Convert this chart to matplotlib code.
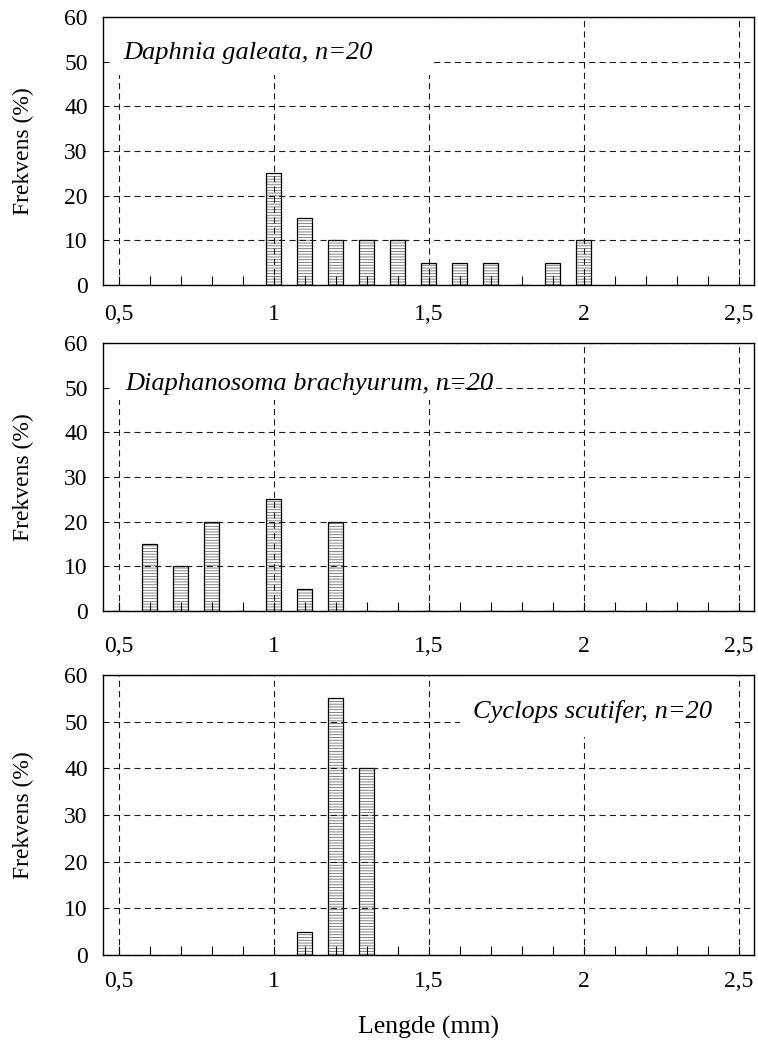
import matplotlib
matplotlib.use("Agg")
import matplotlib.pyplot as plt
from matplotlib.patches import Rectangle
from matplotlib.ticker import MultipleLocator, FixedLocator

plt.rcParams['font.family'] = ['Liberation Serif', 'DejaVu Serif']
plt.rcParams['hatch.linewidth'] = 0.6
plt.rcParams['hatch.color'] = '#707070'

# ---- data ----
daphnia_len = [1.0, 1.1, 1.2, 1.3, 1.4, 1.5, 1.6, 1.7, 1.8, 1.9, 2.0]
daphnia_pct = [25, 15, 10, 10, 10, 5, 5, 5, 0, 5, 10]

diaph_len = [0.5, 0.6, 0.7, 0.8, 0.9, 1.0, 1.1, 1.2, 1.3, 1.4, 1.5, 1.6, 1.7,
             1.8, 1.9, 2.0, 2.1, 2.2, 2.3, 2.4, 2.5]
diaph_pct = [0, 15, 10, 20, 0, 25, 5, 20, 0, 0, 0, 0, 0, 0, 0, 0, 0, 0, 0, 0, 0]

cyclops_len = [1.1, 1.2, 1.3]
cyclops_pct = [5, 55, 40]

titles = ["Daphnia galeata, n=20", "Diaphanosoma brachyurum, n=20",
          "Cyclops scutifer, n=20"]
xticks = [0.5, 1.0, 1.5, 2.0, 2.5]
xticklabels = ["0,5", "1", "1,5", "2", "2,5"]
yticks = [0, 10, 20, 30, 40, 50, 60]
ylabel = "Frekvens (%)"
xlabel = "Lengde (mm)"

fig = plt.figure(figsize=(7.58, 10.41), dpi=100)
W, H = 758, 1041
left, width = 103 / W, 651 / W
positions = [
    (left, 1 - 285 / H, width, 268 / H),
    (left, 1 - 611 / H, width, 268 / H),
    (left, 1 - 955 / H, width, 280 / H),
]
series = [(daphnia_len, daphnia_pct), (diaph_len, diaph_pct),
          (cyclops_len, cyclops_pct)]
# text placement (x, baseline y, ha) and masking boxes (x0, x1, y0)
text_pos = [(0.514, 50.6, 'left'), (0.521, 49.5, 'left'), (2.414, 50.8, 'right')]
boxes = [(0.479, 1.508, 47.0), (0.479, 1.537, 47.2), (1.602, 2.489, 46.7)]
xpads = [13.5, 18.0, 11.5]

axes = []
for i, pos in enumerate(positions):
    ax = fig.add_axes(pos)
    axes.append(ax)
    lens, pct = series[i]
    ax.bar(lens, pct, width=0.05, color='white', edgecolor='#707070',
           linewidth=0, hatch='------', zorder=2)
    ax.bar(lens, pct, width=0.05, fill=False, edgecolor='black',
           linewidth=0.9, zorder=2.1)
    ax.set_xlim(0.45, 2.55)
    ax.set_ylim(0, 60)
    ax.xaxis.set_major_locator(FixedLocator(xticks))
    ax.set_xticklabels(xticklabels)
    ax.xaxis.set_minor_locator(MultipleLocator(0.1))
    ax.set_yticks(yticks)
    ax.tick_params(axis='x', which='both', direction='in', length=6.5,
                   width=0.8, color='black', labelsize=17, pad=xpads[i],
                   top=False)
    ax.tick_params(axis='y', which='both', length=0, labelsize=17, pad=11)
    ax.grid(True, which='major', axis='both', color='#1a1a1a',
            linestyle=(0, (5.5, 3.8)), linewidth=0.8, zorder=3)
    for sp in ax.spines.values():
        sp.set_linewidth(1.0)
        sp.set_color('black')
        sp.set_zorder(5)
    x0, x1, y0 = boxes[i]
    ax.add_patch(Rectangle((x0, y0), x1 - x0, 60 - y0, facecolor='white',
                           edgecolor='none', zorder=3.5))
    tx, ty, ha = text_pos[i]
    ax.text(tx, ty, titles[i], ha=ha, va='baseline', fontsize=19,
            style='italic', zorder=3.6)
    ax.set_ylabel(ylabel, fontsize=17)
    ax.yaxis.set_label_coords((23 - 103) / 651, 0.5)
    ax.yaxis.label.set_va('center')
    ax.set_axisbelow(False)

axes[2].set_xlabel(xlabel, fontsize=18.5)
axes[2].xaxis.set_label_coords(0.5, (955 - 1027) / 280)
axes[2].xaxis.label.set_va('center')

fig.savefig("out.png", dpi=100)
